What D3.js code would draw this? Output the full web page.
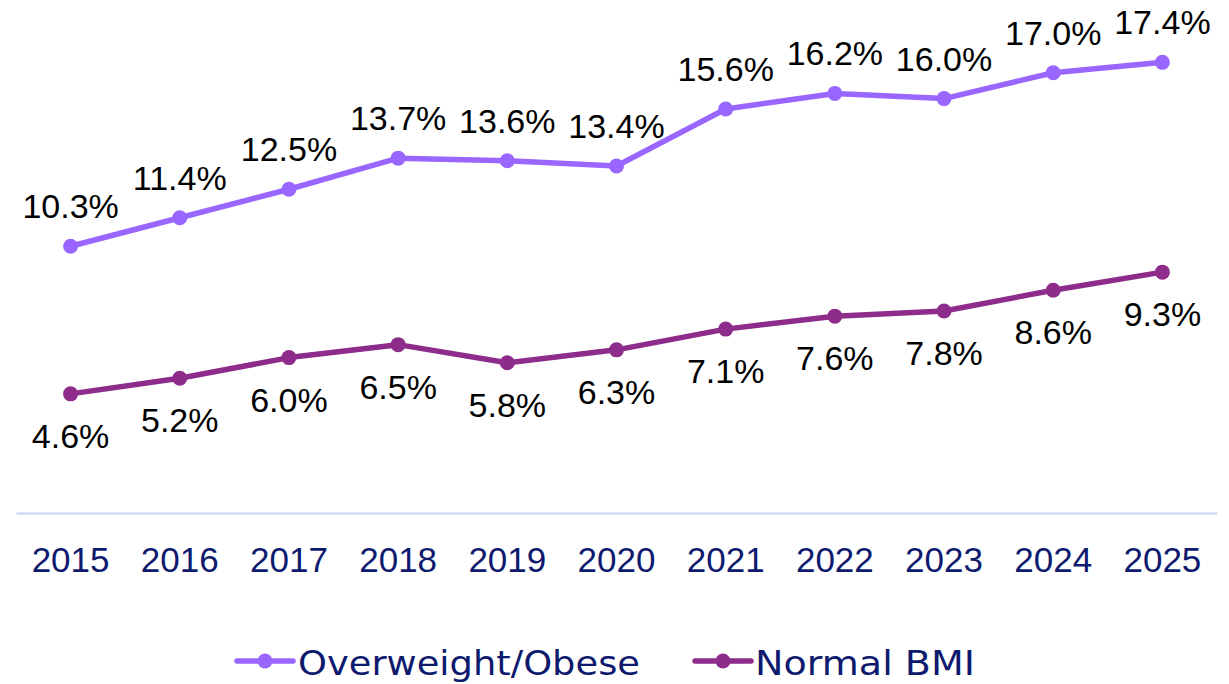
<!DOCTYPE html>
<html><head><meta charset="utf-8">
<script src="https://cdn.jsdelivr.net/npm/d3@7"></script>
<style>body{margin:0;background:#fff}svg{display:block}</style>
</head><body>
<svg id="c" width="1229" height="684"></svg>
<script>
const years = ["2015","2016","2017","2018","2019","2020","2021","2022","2023","2024","2025"];
const overweight = [10.3,11.4,12.5,13.7,13.6,13.4,15.6,16.2,16.0,17.0,17.4];
const normal = [4.6,5.2,6.0,6.5,5.8,6.3,7.1,7.6,7.8,8.6,9.3];
const seriesNames = ["Overweight/Obese","Normal BMI"];
const colors = ["#9966ff","#8e2c8b"];

const svg = d3.select("#c");
const x = d3.scaleBand().domain(years).range([16,1217]);
const y = d3.scaleLinear().domain([0,20]).range([513, 513-25.9*20]);
const cx = d => x(d) + x.bandwidth()/2;

// axis
const ax = svg.append("g").attr("transform","translate(0,513)")
  .call(d3.axisBottom(x).tickSize(0).tickPadding(0));
ax.select(".domain").attr("stroke","#c9d1f7").attr("stroke-width",2);
ax.selectAll("text").attr("font-family","Liberation Sans, Arial, sans-serif")
  .attr("font-size",35).attr("fill","#0d1a6e").attr("dy",0).attr("y",59);

const data = [overweight, normal];
const line = d3.line().x((d,i)=>cx(years[i])).y(d=>y(d));
data.forEach((vals,si)=>{
  svg.append("path").attr("d",line(vals)).attr("fill","none")
    .attr("stroke",colors[si]).attr("stroke-width",5.5).attr("stroke-linejoin","round");
  svg.selectAll(null).data(vals).enter().append("circle")
    .attr("cx",(d,i)=>cx(years[i])).attr("cy",d=>y(d)).attr("r",7.5).attr("fill",colors[si]);
  svg.selectAll(null).data(vals).enter().append("text")
    .attr("x",(d,i)=>cx(years[i])).attr("y",d=> si===0 ? y(d)-28 : y(d)+54)
    .attr("text-anchor","middle").attr("font-family","Liberation Sans, Arial, sans-serif")
    .attr("font-size",34).attr("fill","#000")
    .text(d=>d.toFixed(1)+"%");
});

// legend
const leg = [{x:237, tx:298, w:342},{x:695, tx:755, w:220}];
leg.forEach((l,i)=>{
  svg.append("line").attr("x1",l.x).attr("x2",l.x+56).attr("y1",661).attr("y2",661)
    .attr("stroke",colors[i]).attr("stroke-width",5.5).attr("stroke-linecap","round");
  svg.append("circle").attr("cx",l.x+28).attr("cy",661).attr("r",7.5).attr("fill",colors[i]);
  svg.append("text").attr("x",l.tx).attr("y",675).attr("font-family","DejaVu Sans, Verdana, sans-serif")
    .attr("font-size",34).attr("fill","#0d1a6e")
    .attr("textLength",l.w).attr("lengthAdjust","spacingAndGlyphs").text(seriesNames[i]);
});
</script>
</body></html>
